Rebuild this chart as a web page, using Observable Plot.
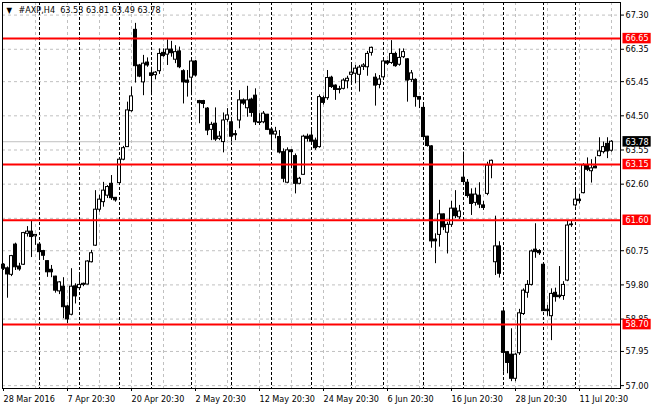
<!DOCTYPE html>
<html><head><meta charset="utf-8">
<script src="https://cdn.jsdelivr.net/npm/d3@7"></script>
<script src="https://cdn.jsdelivr.net/npm/@observablehq/plot@0.6"></script>
<style>html,body{margin:0;padding:0;background:#fff}</style>
</head><body><div id="chart"></div>
<script>
const symbol = "#AXP,H4";
const opens = [60.36,60.26,60.08,60.92,60.31,60.36,61.22,61.28,61.15,60.92,60.74,60.46,60.22,60.03,59.62,59.75,59.20,58.97,59.76,59.71,59.80,59.81,60.43,60.89,61.89,62.10,62.28,62.61,62.22,62.63,63.28,63.63,64.63,66.89,65.90,65.43,65.98,65.68,65.63,65.74,66.25,66.20,66.34,66.06,66.29,65.74,65.48,65.56,66.01,64.91,64.91,64.70,64.11,64.28,63.86,63.77,64.39,64.32,63.99,64.37,64.93,64.71,64.95,65.06,64.30,64.32,64.53,64.12,63.98,63.91,63.49,62.64,63.54,63.38,62.61,62.86,63.92,63.95,63.81,63.63,64.99,64.99,65.56,65.34,65.24,65.25,65.46,65.64,65.67,65.64,65.86,65.85,66.25,65.56,65.36,65.57,66.01,65.97,66.22,65.92,66.13,66.07,65.50,65.50,65.02,64.72,63.92,63.65,61.06,61.19,61.76,61.25,61.47,61.92,61.68,62.78,62.64,62.31,62.08,62.28,62.01,62.33,63.12,60.43,60.87,59.06,57.93,57.86,57.19,57.90,58.99,59.58,59.80,60.78,60.74,60.36,59.11,58.93,59.58,59.50,59.49,59.92,61.48,62.01,62.17,62.35,63.12,62.96,63.09,63.38,63.49,63.72,63.53];
const highs = [60.39,60.30,60.62,60.96,60.40,61.26,61.42,61.59,61.20,60.93,60.76,60.47,60.34,60.04,59.89,60.00,59.23,60.25,59.83,60.12,59.85,60.47,60.76,62.42,62.29,62.65,62.56,62.84,62.23,63.29,63.65,64.88,65.30,67.07,65.93,66.18,66.11,65.85,65.73,66.36,66.36,66.61,66.57,66.45,66.41,65.78,65.76,66.04,66.04,64.93,64.93,64.73,64.32,64.72,64.06,64.58,64.70,64.37,64.09,65.20,64.97,65.32,64.99,65.25,64.56,64.62,64.54,64.18,64.18,64.09,63.58,63.61,63.56,63.44,62.79,63.96,63.99,64.09,63.88,65.08,65.05,65.76,65.60,65.36,65.32,65.53,65.60,65.97,65.90,65.90,65.95,66.29,66.41,65.67,65.62,66.07,66.04,66.59,66.27,66.36,66.36,66.09,65.76,65.53,65.04,64.86,63.93,63.67,61.22,62.15,61.77,61.54,62.12,62.42,62.01,63.49,62.73,62.47,62.49,62.64,62.12,63.21,63.27,61.71,61.00,59.09,57.95,58.58,57.89,59.12,59.69,59.92,60.77,61.50,60.78,60.37,59.23,59.69,59.71,60.31,59.89,61.59,61.57,62.47,62.32,63.17,63.33,63.28,63.35,63.89,63.77,63.89,63.81];
const lows = [60.20,59.43,60.03,60.20,60.18,60.34,61.13,60.56,60.90,60.53,60.48,60.01,60.00,59.57,59.53,58.86,58.72,58.94,59.27,59.64,59.75,59.80,60.41,60.87,61.82,61.96,62.20,62.15,62.10,62.60,63.25,63.62,64.60,65.41,65.56,65.06,65.85,65.06,65.50,65.65,66.13,65.90,66.13,65.95,65.81,64.83,65.02,65.06,65.58,64.28,64.70,63.95,63.81,63.79,63.81,63.47,64.32,63.77,63.81,64.14,64.79,64.46,64.46,64.23,64.23,64.28,64.09,63.58,63.86,63.44,62.64,62.61,63.03,62.33,62.58,62.85,63.77,63.72,63.54,63.60,64.80,64.93,65.26,64.93,65.11,65.22,65.25,65.43,65.39,65.16,65.76,65.60,66.16,64.77,65.25,65.53,65.90,65.93,65.85,65.88,66.09,64.88,65.43,64.74,64.70,63.88,63.63,60.82,60.39,60.85,61.31,60.66,61.40,61.64,61.62,62.56,62.21,61.73,61.99,61.92,61.87,62.28,62.75,60.06,59.99,57.37,57.33,57.11,57.11,57.84,58.95,59.43,59.77,60.54,60.62,59.06,58.93,58.25,59.32,59.41,59.37,59.89,61.40,61.96,62.05,62.33,62.95,62.63,63.03,63.36,63.44,63.31,63.49];
const closes = [60.25,60.09,60.60,60.29,60.23,61.24,61.28,61.13,61.19,60.71,60.61,60.15,60.15,59.64,59.87,59.18,58.84,59.75,59.48,59.80,59.83,60.45,60.68,61.89,62.17,62.42,62.52,62.21,62.15,63.28,63.60,64.65,65.04,65.88,65.59,65.95,65.90,65.61,65.70,66.22,66.16,66.34,66.24,66.27,65.85,65.43,65.42,66.01,65.62,64.85,64.83,64.09,64.25,63.84,63.92,64.37,64.51,63.92,63.96,64.93,64.84,64.93,64.58,64.32,64.32,64.56,64.11,63.98,64.06,63.48,62.75,63.54,63.49,62.61,62.75,63.92,63.86,63.78,63.60,65.02,64.86,65.55,65.30,65.22,65.22,65.48,65.53,65.70,65.81,65.84,65.90,66.22,66.39,65.34,65.51,66.01,65.95,66.22,65.88,66.11,66.27,65.48,65.68,65.02,64.95,63.91,63.66,61.01,61.01,61.76,61.40,61.47,61.92,61.71,61.84,62.66,62.27,62.05,62.31,62.03,61.94,63.12,63.25,60.87,60.11,57.91,57.63,57.19,57.86,59.01,59.64,59.80,60.73,60.71,60.68,59.07,59.07,59.55,59.46,59.46,59.80,61.45,61.46,62.17,62.13,63.12,63.00,63.04,63.04,63.51,63.63,63.51,63.78];

const xTickIndex = [0,16,32,48,64,80,96,112,128,144];
const xTickLabels = ["28 Mar 2016","7 Apr 20:30","20 Apr 20:30","2 May 20:30","12 May 20:30","24 May 20:30","6 Jun 20:30","16 Jun 20:30","28 Jun 20:30","11 Jul 20:30"];
const gridIndex = [8,16,24,32,40,48,56,64,72,80,88,96,104,112,120,128,136,144,152];
const weekStartIndex = [9,19,29,37,47,57,67,77,87,95,105,115,125,135,143];
const yGrid = [67.30,66.35,65.45,64.50,63.55,62.60,61.65,60.75,59.80,58.85,57.95,57.00];
const yTickLabels = [67.30,66.35,65.45,64.50,63.55,62.60,60.75,59.80,58.85,57.95,57.00];
const levels = [66.65,63.15,61.60,58.70];

const bars = opens.map((o, i) => ({i, o, h: highs[i], l: lows[i], c: closes[i]}));
const last = bars[bars.length - 1];
const f2 = d3.format(".2f");
const labelMap = new Map(xTickIndex.map((k, j) => [k, xTickLabels[j]]));
const tagData = [...levels.map(v => ({v, color: "#ff0000"})), {v: last.c, color: "#000000"}];
const hw = 0.375;

const chart = Plot.plot({
  width: 660, height: 410,
  marginTop: 2, marginBottom: 22, marginLeft: 2, marginRight: 40,
  style: {fontFamily: "'DejaVu Sans Condensed','DejaVu Sans',sans-serif", fontSize: "9px", background: "#fff", color: "#000"},
  x: {domain: [-0.25, 154.25]},
  y: {domain: [56.92, 67.65]},
  marks: [
    Plot.gridY(yGrid, {stroke: "#c0c0c0", strokeOpacity: 1, strokeDasharray: "3,3"}),
    Plot.gridX(gridIndex, {stroke: "#c0c0c0", strokeOpacity: 1, strokeDasharray: "3,3"}),
    Plot.ruleX(weekStartIndex, {stroke: "#000", strokeDasharray: "3,2"}),
    Plot.ruleY([last.c], {stroke: "#c0c0c0"}),
    Plot.ruleX(bars, {x: "i", y1: "l", y2: "h", stroke: "#000"}),
    Plot.rect(bars.filter(d => d.c >= d.o), {x1: d => d.i - hw, x2: d => d.i + hw, y1: "o", y2: "c", fill: "#fff", stroke: "#000"}),
    Plot.rect(bars.filter(d => d.c < d.o), {x1: d => d.i - hw, x2: d => d.i + hw, y1: "o", y2: "c", fill: "#000", stroke: "#000"}),
    Plot.ruleY(levels, {stroke: "#ff0000", strokeWidth: 2}),
    Plot.frame({stroke: "#000"}),
    Plot.axisX({ticks: xTickIndex, tickFormat: d => labelMap.get(d), tickSize: 3, tickPadding: 4, textAnchor: "start", fontSize: 9, label: null}),
    Plot.axisY({anchor: "right", ticks: yTickLabels, tickFormat: f2, tickSize: 3, tickPadding: 2, fontSize: 9, label: null}),
    Plot.text(tagData, {y: "v", text: d => f2(d.v), frameAnchor: "right", dx: 5, textAnchor: "start", fill: "#fff", fontSize: 9}),
    Plot.text(["\u25BC"], {frameAnchor: "top-left", dx: 4, dy: 5, lineAnchor: "top", textAnchor: "start", fontSize: 8}),
    Plot.text([`${symbol}  ${f2(last.o)} ${f2(last.h)} ${f2(last.l)} ${f2(last.c)}`], {frameAnchor: "top-left", dx: 16, dy: 4, lineAnchor: "top", textAnchor: "start", fontSize: 9})
  ]
});
document.getElementById("chart").append(chart);

// Coloured boxes behind the price tags on the right axis (first text mark)
const tagGroup = chart.querySelectorAll('g[aria-label="text"]')[0];
d3.select(tagGroup).selectAll("text").each(function(_, k) {
  const b = this.getBBox();
  d3.select(this.parentNode).insert("rect", () => this)
    .attr("x", b.x - 3).attr("y", b.y - 0.5)
    .attr("width", b.width + 5).attr("height", b.height + 0.5)
    .attr("fill", tagData[k].color)
    .attr("transform", this.getAttribute("transform"));
});
</script>
</body></html>
